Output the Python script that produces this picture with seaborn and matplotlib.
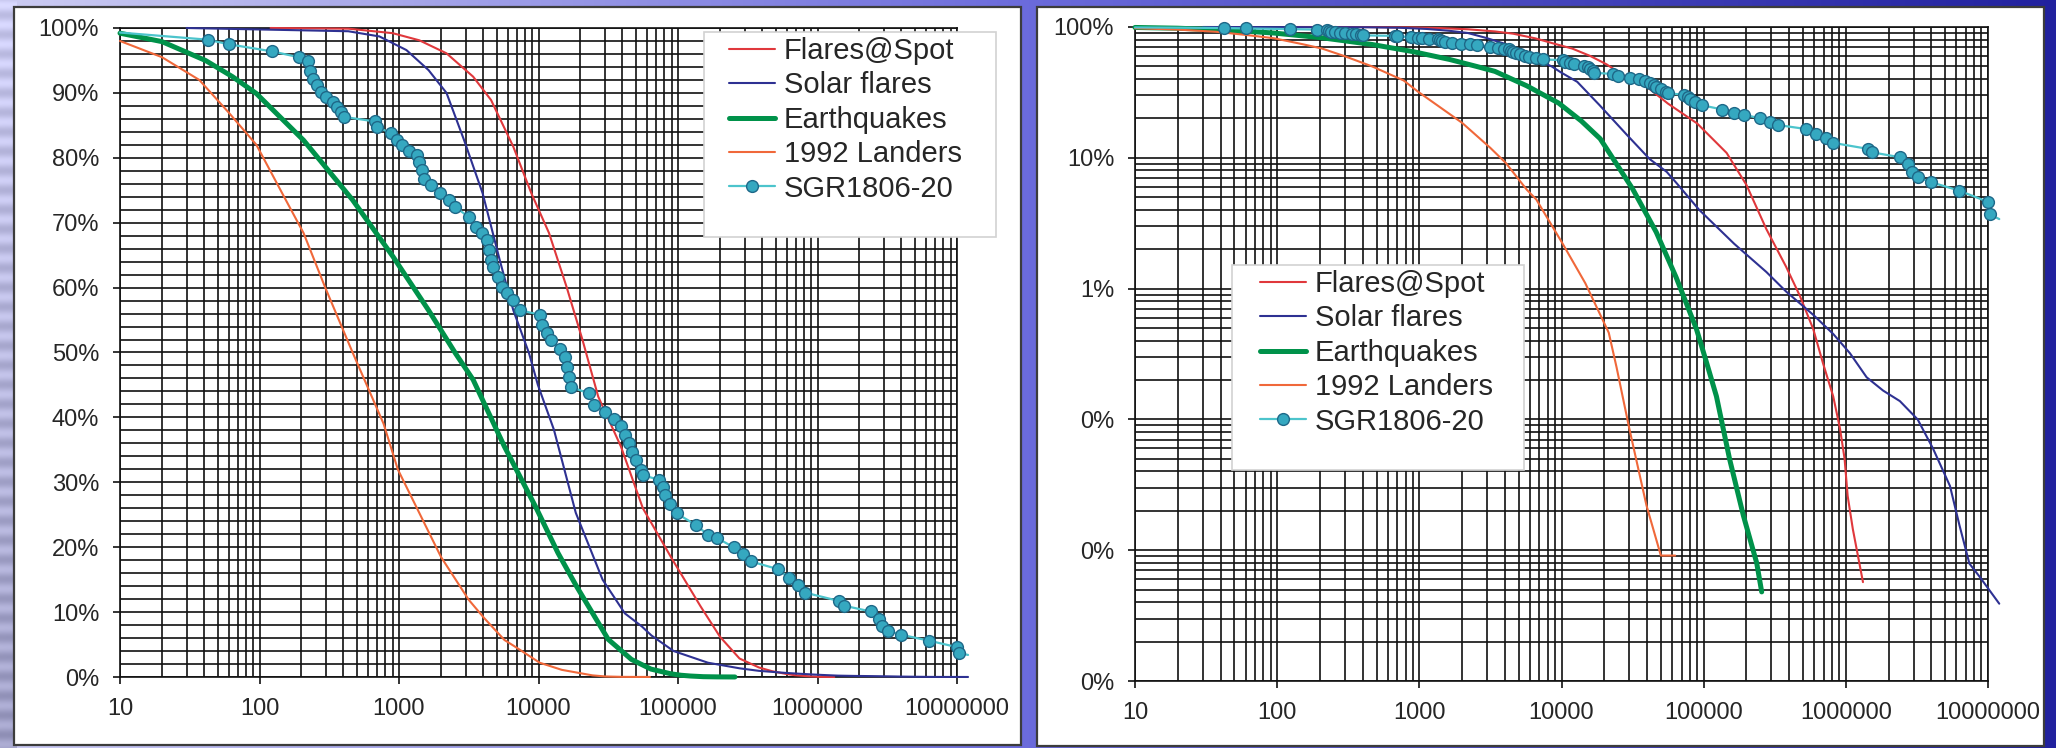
import numpy as np
import matplotlib
matplotlib.use("Agg")
import matplotlib.pyplot as plt
from matplotlib.patches import Rectangle
from matplotlib.ticker import (LogLocator, MultipleLocator, FuncFormatter,
                               NullFormatter, PercentFormatter)
import seaborn as sns

# ---------------------------------------------------------------------------
# Complementary cumulative distributions (fraction of events with size > x)
# ---------------------------------------------------------------------------
series_names = ["Flares@Spot", "Solar flares", "Earthquakes", "1992 Landers", "SGR1806-20"]

spot_x = [120, 433, 903, 1400, 2190, 3400, 4570, 6600, 8900, 11900, 15900, 20700,
          26800, 39000, 56000, 90000, 145000, 200000, 276000, 380000, 475000,
          590000, 690000, 815000, 910000, 980000, 1030000, 1120000, 1320000]
spot_y = [1.0, 0.999, 0.992, 0.981, 0.961, 0.925, 0.889, 0.817, 0.745, 0.684, 0.601,
          0.519, 0.432, 0.355, 0.26, 0.183, 0.109, 0.062, 0.0285, 0.0147, 0.0088,
          0.0049, 0.0027, 0.0015, 0.00085, 0.0005, 0.00026, 0.000145, 0.000057]

solar_x = [30, 433, 724, 1130, 1630, 2190, 2930, 3980, 5280, 6600, 8550, 9900, 12900,
           18500, 28800, 41600, 55000, 64500, 93000, 164000, 276000, 380000, 590000,
           815000, 1070000, 1400000, 1830000, 2400000, 3200000, 4100000, 5400000,
           6300000, 7400000, 8700000, 12000000]
solar_y = [1.0, 0.995, 0.987, 0.966, 0.935, 0.90, 0.827, 0.745, 0.642, 0.565, 0.499,
           0.45, 0.381, 0.253, 0.15, 0.098, 0.078, 0.064, 0.040, 0.022, 0.0134, 0.0095,
           0.0063, 0.0045, 0.0032, 0.0021, 0.00166, 0.00138, 0.001, 0.0006, 0.00031,
           0.000155, 0.000079, 0.000063, 0.000039]

quake_x = [10, 20, 41, 64, 95, 207, 465, 904, 1630, 2535, 3400, 5700, 9550, 13800,
           18700, 31600, 46400, 64000, 89000, 105000, 123000, 152000, 190000, 236000,
           256000]
quake_y = [0.992, 0.979, 0.95, 0.925, 0.899, 0.827, 0.735, 0.648, 0.565, 0.499, 0.458,
           0.355, 0.262, 0.191, 0.14, 0.058, 0.027, 0.0122, 0.0049, 0.0027, 0.0015,
           0.0005, 0.000185, 0.00008, 0.000048]

landers_x = [10, 20, 37, 60, 95, 150, 207, 296, 465, 776, 980, 2000, 3160, 4070, 5700,
             6650, 10200, 14700, 21500, 24400, 30000, 39600, 50000, 63000]
landers_y = [0.98, 0.955, 0.92, 0.87, 0.82, 0.74, 0.684, 0.60, 0.50, 0.39, 0.32, 0.185,
             0.119, 0.091, 0.057, 0.048, 0.022, 0.011, 0.0046, 0.0025, 0.00085, 0.00022,
             0.000091, 0.000091]

sgr_x = [10, 42.5, 60, 123, 191, 224, 230, 240, 257, 275, 300, 334, 360, 387, 402,
         676, 693, 870, 975, 1050, 1170, 1350, 1400, 1450, 1510, 1700, 1960, 2270, 2530,
         3160, 3550, 3940, 4250, 4400, 4570, 4750, 5100, 5500, 5900, 6600, 7400, 10300,
         10600, 11500, 12300, 14300, 15400, 15900, 16600, 17000, 23000, 24900, 30200,
         34900, 38800, 41700, 44900, 46500, 50000, 54000, 56000, 72500, 77700, 80500,
         87000, 97800, 135000, 164000, 191000, 250000, 293000, 333000, 525000, 620000,
         730000, 815000, 1430000, 1540000, 2400000, 2750000, 2900000, 3200000, 4000000,
         6300000, 10000000, 10300000, 12000000]
sgr_y = [0.993, 0.982, 0.975, 0.964, 0.955, 0.949, 0.933, 0.922, 0.912, 0.902, 0.894,
         0.886, 0.879, 0.871, 0.863, 0.856, 0.848, 0.838, 0.827, 0.819, 0.811, 0.804,
         0.794, 0.781, 0.768, 0.758, 0.745, 0.735, 0.724, 0.709, 0.694, 0.684, 0.673,
         0.658, 0.642, 0.632, 0.617, 0.601, 0.591, 0.581, 0.565, 0.558, 0.543, 0.530,
         0.519, 0.506, 0.493, 0.478, 0.463, 0.447, 0.437, 0.419, 0.409, 0.398, 0.386,
         0.373, 0.360, 0.347, 0.334, 0.319, 0.311, 0.304, 0.293, 0.280, 0.267, 0.252,
         0.234, 0.219, 0.214, 0.200, 0.189, 0.178, 0.166, 0.153, 0.141, 0.130, 0.117,
         0.110, 0.101, 0.089, 0.078, 0.071, 0.065, 0.056, 0.046, 0.037, 0.034]

# ---------------------------------------------------------------------------
W, H, DPI = 2056, 748, 100
sns.set_theme(style="white")
plt.rcParams["font.family"] = ["Liberation Sans", "DejaVu Sans"]

fig = plt.figure(figsize=(W / DPI, H / DPI), dpi=DPI)

# slide background: lavender on the left fading into deep blue on the right
bg = fig.add_axes([0, 0, 1, 1], zorder=-10)
t = np.linspace(0, 1, W)[None, :]
v = np.linspace(0, 1, H)[:, None]
stops_t = [0.0, 0.5, 1.0]
stops_c = np.array([[0.80, 0.80, 0.95], [0.42, 0.42, 0.86], [0.13, 0.13, 0.62]])
img = np.zeros((H, W, 3))
for k in range(3):
    img[..., k] = np.interp(t, stops_t, stops_c[:, k]) * np.ones_like(v)
left = (t < 0.008).astype(float)
streak = 0.06 * np.sin(v * H / 3.1) * left - 0.18 * v * left
img = np.clip(img + streak[..., None], 0, 1)
bg.imshow(img, aspect="auto", extent=[0, 1, 0, 1], interpolation="bilinear")
bg.set_axis_off()


def px_box(x0, y0, x1, y1, **kw):
    return Rectangle((x0 / W, 1 - y1 / H), (x1 - x0) / W, (y1 - y0) / H,
                     transform=fig.transFigure, **kw)


# white chart frames
for (x0, y0, x1, y1) in [(14, 7, 1021, 745), (1037, 7, 2044, 746)]:
    fig.patches.append(px_box(x0, y0, x1, y1, facecolor="white",
                              edgecolor="#3c3c3c", lw=1.6, zorder=-5))

axL = fig.add_axes([120 / W, (H - 677) / H, (957 - 120) / W, (677 - 28) / H])
axR = fig.add_axes([1135 / W, (H - 681) / H, (1988 - 1135) / W, (681 - 27) / H])

colors = {
    "Flares@Spot": "#e0383c",
    "Solar flares": "#2e3192",
    "Earthquakes": "#00924a",
    "1992 Landers": "#f0683a",
    "SGR1806-20": "#4cc4cc",
}
widths = {"Flares@Spot": 1.5, "Solar flares": 1.5, "Earthquakes": 3.6,
          "1992 Landers": 1.5, "SGR1806-20": 1.6}
data = {
    "Flares@Spot": (spot_x, spot_y),
    "Solar flares": (solar_x, solar_y),
    "Earthquakes": (quake_x, quake_y),
    "1992 Landers": (landers_x, landers_y),
    "SGR1806-20": (sgr_x, sgr_y),
}

tick_color = "#262626"
int_fmt = FuncFormatter(lambda val, _: f"{int(round(val))}")


def style_axes(ax, log_y):
    ax.set_facecolor("white")
    ax.set_xscale("log")
    ax.set_xlim(10, 1e7)
    ax.xaxis.set_major_locator(LogLocator(base=10))
    ax.xaxis.set_minor_locator(LogLocator(base=10, subs=np.arange(2, 10)))
    ax.xaxis.set_major_formatter(int_fmt)
    ax.xaxis.set_minor_formatter(NullFormatter())
    if log_y:
        ax.set_yscale("log")
        ax.set_ylim(1e-5, 1)
        ax.yaxis.set_major_locator(LogLocator(base=10))
        ax.yaxis.set_minor_locator(LogLocator(base=10, subs=np.arange(2, 10)))
        ax.yaxis.set_minor_formatter(NullFormatter())
    else:
        ax.set_ylim(0, 1)
        ax.yaxis.set_major_locator(MultipleLocator(0.1))
        ax.yaxis.set_minor_locator(MultipleLocator(0.02))
    ax.yaxis.set_major_formatter(PercentFormatter(xmax=1, decimals=0))
    ax.grid(True, which="both", color="#111111", lw=1.2)
    ax.set_axisbelow(True)
    for s in ax.spines.values():
        s.set_color("#111111")
        s.set_linewidth(1.2)
    ax.tick_params(axis="both", which="major", direction="out", length=5,
                   width=1.2, color="#111111", labelsize=17,
                   labelcolor=tick_color, pad=10, bottom=True, left=True)
    ax.tick_params(axis="both", which="minor", length=0)
    ax.set_xlabel("")
    ax.set_ylabel("")


for ax, log_y in [(axL, False), (axR, True)]:
    style_axes(ax, log_y)
    handles = []
    for name in series_names:
        xs, ys = data[name]
        kw = dict(color=colors[name], lw=widths[name], clip_on=False)
        if name == "SGR1806-20":
            kw.update(marker="o", markersize=8.5, markerfacecolor="#35a8c0",
                      markeredgecolor="#1e6888", markeredgewidth=1.0,
                      markevery=list(range(1, len(xs) - 1)))
        sns.lineplot(x=xs, y=ys, ax=ax, estimator=None, sort=False,
                     errorbar=None, legend=False, **kw)
        line = ax.lines[-1]
        line.set_label(name)
        line.set_zorder(3)
        handles.append(line)
    style_axes(ax, log_y)

    if ax is axL:
        box = (704, 32, 996, 237)
        anchor = (729, 37)
    else:
        box = (1232, 265, 1524, 470)
        anchor = (1260, 270)
    frame = px_box(*box, facecolor="white", edgecolor="#d2d2d2", lw=1.2, zorder=4)
    frame.set_clip_on(False)
    ax.add_artist(frame)
    leg = ax.legend(handles=handles, labels=series_names, loc="upper left",
                    bbox_to_anchor=(anchor[0] / W, 1 - anchor[1] / H),
                    bbox_transform=fig.transFigure, frameon=False,
                    fontsize=21, handlelength=1.57, handletextpad=0.3,
                    borderpad=0, borderaxespad=0, labelspacing=0.22)
    for txt in leg.get_texts():
        txt.set_color(tick_color)
    leg.set_zorder(5)

fig.savefig("out.png", dpi=DPI)
